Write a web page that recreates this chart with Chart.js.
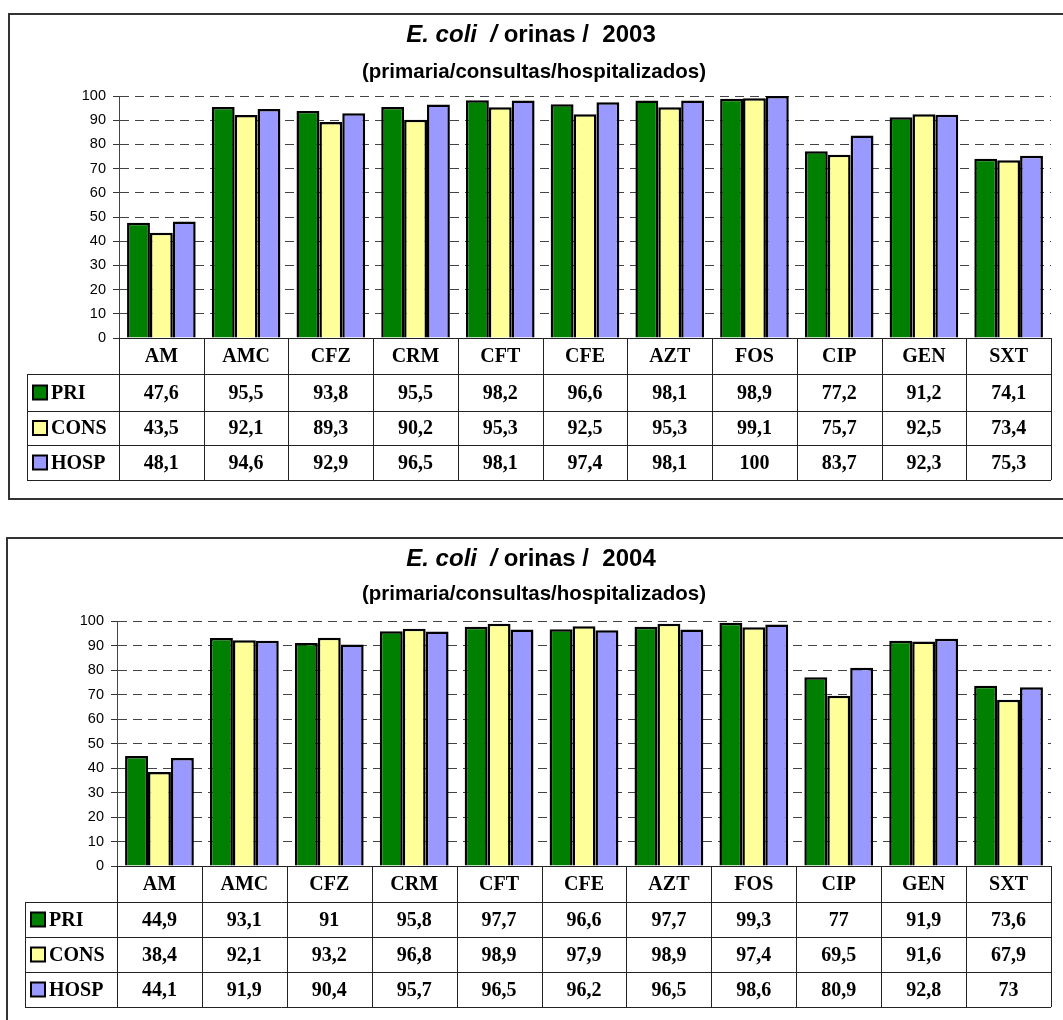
<!DOCTYPE html>
<html>
<head>
<meta charset="utf-8">
<script src="https://cdn.jsdelivr.net/npm/chart.js@4/dist/chart.umd.min.js"></script>
<style>
  body { margin: 0; background: #fff; width: 1063px; height: 1020px; overflow: hidden; position: relative; }
  .frame { position: absolute; border: 2px solid #333; box-sizing: border-box; }
  canvas { position: absolute; left: 0; }
</style>
</head>
<body>
<div class="frame" style="left:8px;top:13px;width:1070px;height:487px;"></div>
<div class="frame" style="left:6px;top:537px;width:1070px;height:500px;"></div>
<canvas id="chart2003" width="1063" height="520" style="top:0"></canvas>
<canvas id="chart2004" width="1063" height="500" style="top:520px"></canvas>
<script>
const categories = ['AM', 'AMC', 'CFZ', 'CRM', 'CFT', 'CFE', 'AZT', 'FOS', 'CIP', 'GEN', 'SXT'];
const seriesNames = ['PRI', 'CONS', 'HOSP'];
const seriesColors = ['#008000', '#FFFF99', '#9999FF'];
const yTicks = [0, 10, 20, 30, 40, 50, 60, 70, 80, 90, 100];

const pri2003 = [47.6, 95.5, 93.8, 95.5, 98.2, 96.6, 98.1, 98.9, 77.2, 91.2, 74.1];
const cons2003 = [43.5, 92.1, 89.3, 90.2, 95.3, 92.5, 95.3, 99.1, 75.7, 92.5, 73.4];
const hosp2003 = [48.1, 94.6, 92.9, 96.5, 98.1, 97.4, 98.1, 100, 83.7, 92.3, 75.3];

const pri2004 = [44.9, 93.1, 91, 95.8, 97.7, 96.6, 97.7, 99.3, 77, 91.9, 73.6];
const cons2004 = [38.4, 92.1, 93.2, 96.8, 98.9, 97.9, 98.9, 97.4, 69.5, 91.6, 67.9];
const hosp2004 = [44.1, 91.9, 90.4, 95.7, 96.5, 96.2, 96.5, 98.6, 80.9, 92.8, 73];

const fmt = v => String(v).replace('.', ',');

// title with italic species name, drawn by hand since the title plugin can't mix styles
const titlePlugin = {
    id: 'mixedTitle',
    afterDraw(chart, args, opts) {
        const ctx = chart.ctx;
        ctx.save();
        ctx.fillStyle = '#000';
        ctx.textBaseline = 'middle';
        const partA = 'E. coli  /';
        const partB = ' orinas /  ' + opts.year;
        const fA = 'italic bold 24px "Liberation Sans", Arial, sans-serif';
        const fB = 'bold 24px "Liberation Sans", Arial, sans-serif';
        ctx.font = fA;
        const wA = ctx.measureText(partA).width;
        ctx.font = fB;
        const wB = ctx.measureText(partB).width;
        let x = opts.cx - (wA + wB) / 2;
        ctx.textAlign = 'left';
        ctx.font = fA;
        ctx.fillText(partA, x, opts.titleY);
        ctx.font = fB;
        ctx.fillText(partB, x + wA, opts.titleY);
        ctx.font = 'bold 20.5px "Liberation Sans", Arial, sans-serif';
        ctx.textAlign = 'center';
        ctx.fillText('(primaria/consultas/hospitalizados)', opts.cx + 3, opts.subY);
        ctx.restore();
    }
};

// data table under the plot, columns follow the x scale
const tablePlugin = {
    id: 'dataTable',
    afterDraw(chart, args, opts) {
        const ctx = chart.ctx;
        const xs = chart.scales.x;
        const area = chart.chartArea;
        const n = categories.length;
        const colW = (area.right - area.left) / n;
        const top = area.bottom;
        const rows = opts.rows;
        const bottom = top + rows.reduce((a, b) => a + b, 0);
        const rowTop = top + rows[0];
        ctx.save();
        ctx.strokeStyle = '#222';
        ctx.lineWidth = 1;
        ctx.beginPath();
        // horizontal lines
        ctx.moveTo(area.left, top + 0.5);
        ctx.lineTo(area.right, top + 0.5);
        let y = rowTop;
        for (let r = 0; r <= 3; r++) {
            ctx.moveTo(opts.labelLeft, Math.round(y) + 0.5);
            ctx.lineTo(area.right, Math.round(y) + 0.5);
            y += rows[r + 1] || 0;
        }
        // vertical lines
        for (let i = 0; i <= n; i++) {
            const x = Math.round(area.left + i * colW) + 0.5;
            ctx.moveTo(x, top);
            ctx.lineTo(x, bottom);
        }
        ctx.moveTo(opts.labelLeft + 0.5, rowTop);
        ctx.lineTo(opts.labelLeft + 0.5, bottom);
        ctx.stroke();

        ctx.fillStyle = '#000';
        ctx.font = 'bold 20px "Liberation Serif", "Times New Roman", serif';
        ctx.textAlign = 'center';
        ctx.textBaseline = 'middle';
        categories.forEach((c, i) => {
            ctx.fillText(c, xs.getPixelForValue(i), top + rows[0] / 2 + 1);
        });
        let ry = rowTop;
        chart.data.datasets.forEach((ds, r) => {
            const h = rows[r + 1];
            const cy = ry + h / 2 + 1;
            ctx.textAlign = 'center';
            ds.data.forEach((v, i) => {
                ctx.fillText(fmt(v), xs.getPixelForValue(i), cy);
            });
            // legend key
            ctx.fillStyle = ds.backgroundColor;
            ctx.fillRect(opts.labelLeft + 6, cy - 8, 14, 14);
            ctx.strokeStyle = '#000';
            ctx.lineWidth = 2;
            ctx.strokeRect(opts.labelLeft + 6, cy - 8, 14, 14);
            ctx.fillStyle = '#000';
            ctx.textAlign = 'left';
            ctx.fillText(ds.label, opts.labelLeft + 24, cy);
            ry += h;
        });
        ctx.restore();
    }
};

makeChart = (id, year, pri, cons, hosp, geo) => {
    const values = [pri, cons, hosp];
    const ctx = document.getElementById(id).getContext('2d');
    return new Chart(ctx, {
        type: 'bar',
        data: {
            labels: categories,
            datasets: seriesNames.map((name, i) => ({
                label: name,
                data: values[i],
                backgroundColor: seriesColors[i],
                borderColor: '#000',
                borderWidth: 2.5,
                categoryPercentage: 0.81,
                barPercentage: 1.0,
            })),
        },
        options: {
            responsive: false,
            animation: false,
            layout: { padding: { left: 0, right: 12, top: geo.top, bottom: geo.bottom } },
            plugins: {
                legend: { display: false },
                title: { display: false },
                tooltip: { enabled: false },
                mixedTitle: { year, cx: 531, titleY: geo.titleY, subY: geo.subY },
                dataTable: { rows: geo.rows, labelLeft: geo.labelLeft },
            },
            scales: {
                x: { display: false },
                y: {
                    min: 0,
                    max: 100,
                    afterBuildTicks: (scale) => { scale.ticks = yTicks.map(v => ({ value: v })); },
                    afterFit: (scale) => { scale.width = geo.axisX; },
                    ticks: {
                        color: '#000',
                        padding: 7,
                        font: { family: '"Liberation Sans", Arial, sans-serif', size: 14.5 },
                    },
                    grid: { color: '#444', lineWidth: 1, tickLength: 6, tickColor: '#333' },
                    border: { color: '#444', width: 1, dash: [9, 6] },
                },
            },
        },
        plugins: [titlePlugin, tablePlugin],
    });
}

makeChart('chart2003', 2003, pri2003, cons2003, hosp2003, {
    top: 96, bottom: 182, axisX: 119, titleY: 35, subY: 72, labelLeft: 27, rows: [36, 37, 34, 35],
});
makeChart('chart2004', 2004, pri2004, cons2004, hosp2004, {
    top: 101, bottom: 154, axisX: 117, titleY: 39, subY: 74, labelLeft: 25, rows: [36, 35, 35, 35],
});
</script>
</body>
</html>
